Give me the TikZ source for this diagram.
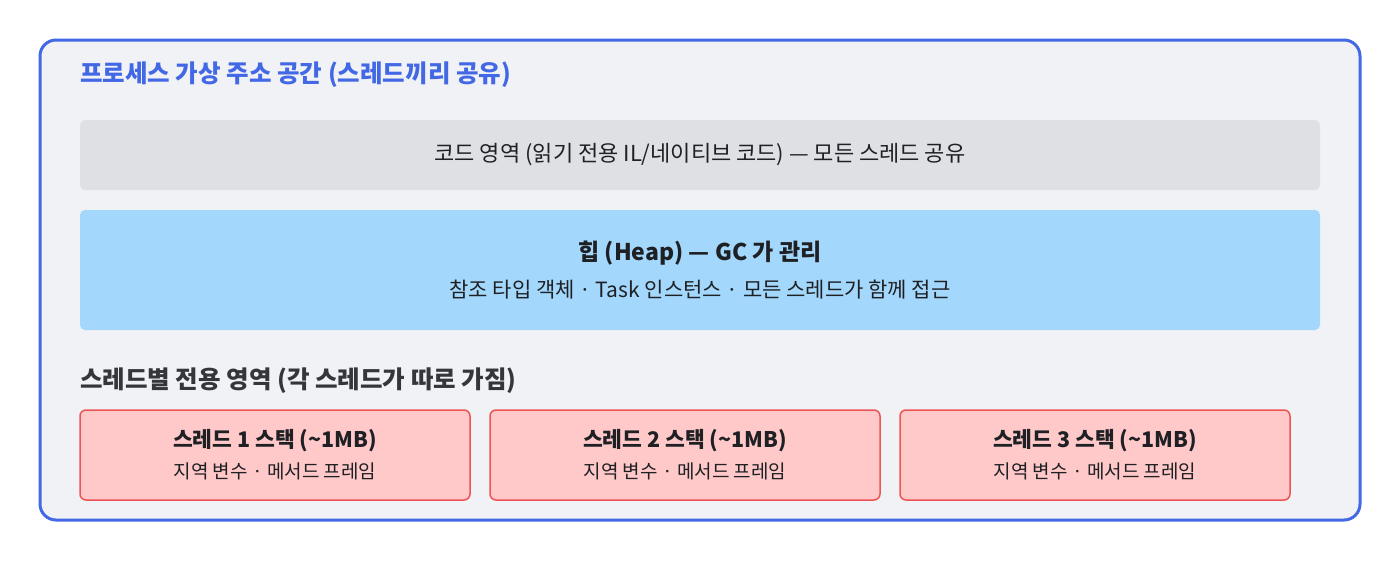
\documentclass[tikz,border=0pt]{standalone}
\usepackage{fontspec}
\setmainfont{Noto Sans CJK KR}
\usetikzlibrary{positioning}
\definecolor{procblue}{RGB}{66,104,230}
\definecolor{procbg}{RGB}{241,242,245}
\definecolor{codegray}{RGB}{222,224,228}
\definecolor{heapblue}{RGB}{163,215,252}
\definecolor{stackred}{RGB}{255,201,201}
\definecolor{stackline}{RGB}{238,84,84}
\definecolor{ink}{RGB}{30,32,36}
\tikzset{
x=1pt, y=-1pt, % one unit is one pixel of the reference
region/.style={rounded corners=5pt, minimum width=1240pt, align=center, text=ink, outer sep=0pt}, % the shared areas
stackbox/.style={rounded corners=6pt, draw=stackline, line width=1.5pt, fill=stackred, outer sep=0pt,
  minimum width=390pt, minimum height=90pt, align=center, text=ink}, % one box per thread
}

\begin{document}
\begin{tikzpicture}
    \useasboundingbox (0,0) rectangle (1400,560);
    \draw[procblue, line width=3pt, fill=procbg, rounded corners=16pt] (40,40) rectangle (1360,520);

    \node[anchor=west, inner sep=0pt, text=procblue, font=\fontsize{24.5}{28}\selectfont\bfseries] (title) at (80,75) {프로세스 가상 주소 공간 (스레드끼리 공유)};

    \node[region, fill=codegray, minimum height=70pt, anchor=north west, font=\fontsize{22}{26}\selectfont] (code) at (80,120) {코드 영역 (읽기 전용 IL/네이티브 코드) — 모든 스레드 공유};
    \node[region, fill=heapblue, minimum height=120pt, below=20pt of code] (heap)
        {{\fontsize{23}{26}\selectfont\bfseries 힙 (Heap) — GC 가 관리}\\[13pt]
         {\fontsize{21}{24}\selectfont 참조 타입 객체 · Task 인스턴스 · 모든 스레드가 함께 접근}};

    \node[anchor=west, inner sep=0pt, text=ink!90, font=\fontsize{24.5}{28}\selectfont\bfseries] (local) at (80,381) {스레드별 전용 영역 (각 스레드가 따로 가짐)};

    \node[stackbox, anchor=north west] (t1) at (80,410)
        {{\fontsize{21.5}{24}\selectfont\bfseries 스레드 1 스택 (\textasciitilde 1MB)}\\[10pt]
         {\fontsize{19}{22}\selectfont 지역 변수 · 메서드 프레임}};
    \node[stackbox, right=20pt of t1] (t2)
        {{\fontsize{21.5}{24}\selectfont\bfseries 스레드 2 스택 (\textasciitilde 1MB)}\\[10pt]
         {\fontsize{19}{22}\selectfont 지역 변수 · 메서드 프레임}};
    \node[stackbox, right=20pt of t2] (t3)
        {{\fontsize{21.5}{24}\selectfont\bfseries 스레드 3 스택 (\textasciitilde 1MB)}\\[10pt]
         {\fontsize{19}{22}\selectfont 지역 변수 · 메서드 프레임}};
\end{tikzpicture}
\end{document}
